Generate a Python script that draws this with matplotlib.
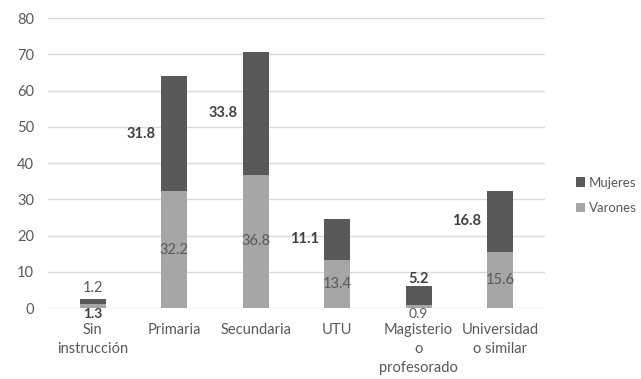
import matplotlib.pyplot as plt
import numpy as np

plt.rcParams['font.family'] = ['Lato', 'DejaVu Sans']

categorias = ["Sin\ninstrucción", "Primaria", "Secundaria", "UTU",
              "Magisterio\no\nprofesorado", "Universidad\no similar"]
varones = [1.2, 32.2, 36.8, 13.4, 0.9, 15.6]
mujeres = [1.3, 31.8, 33.8, 11.1, 5.2, 16.8]

# where each label goes: 'in' = inside/beside the segment, 'above'/'below' = outside the bar
pos_varones = ['above', 'in', 'in', 'in', 'below', 'in']
pos_mujeres = ['below', 'left', 'left', 'left', 'above', 'left']

c_muj = '#595959'
c_var = '#a6a6a6'
c_txt = '#595959'
fs = 10.5

fig = plt.figure(figsize=(6.41, 3.79), dpi=100)
ax = fig.add_axes([0.075, 0.187, 0.775, 0.7655])

x = np.arange(len(categorias))
w = 0.32
b_var = ax.bar(x, varones, w, color=c_var, label='Varones', zorder=3)
b_muj = ax.bar(x, mujeres, w, bottom=varones, color=c_muj, label='Mujeres', zorder=3)

for i in range(len(categorias)):
    v, m = varones[i], mujeres[i]
    total = v + m
    # Varones labels
    if pos_varones[i] == 'in':
        ax.text(x[i], v / 2, f'{v:.1f}', ha='center', va='center',
                fontsize=fs, color=c_txt, zorder=4)
    elif pos_varones[i] == 'above':
        ax.annotate(f'{v:.1f}', (x[i], total), xytext=(0, 3), textcoords='offset points',
                    ha='center', va='bottom', fontsize=fs, color=c_txt)
    else:
        ax.annotate(f'{v:.1f}', (x[i], 0), xytext=(0, 0), textcoords='offset points',
                    ha='center', va='top', fontsize=10, color=c_txt)
    # Mujeres labels
    if pos_mujeres[i] == 'left':
        ax.annotate(f'{m:.1f}', (x[i] - w / 2, v + m / 2), xytext=(-4, 0),
                    textcoords='offset points', ha='right', va='center',
                    fontsize=fs, color='#404040', fontweight='bold')
    elif pos_mujeres[i] == 'above':
        ax.annotate(f'{m:.1f}', (x[i], total), xytext=(0, 0), textcoords='offset points',
                    ha='center', va='bottom', fontsize=fs, color='#404040', fontweight='bold')
    else:
        ax.annotate(f'{m:.1f}', (x[i], 0), xytext=(0, 0), textcoords='offset points',
                    ha='center', va='top', fontsize=10, color='#404040', fontweight='bold')

ax.set_ylim(0, 80)
ax.set_yticks(range(0, 81, 10))
ax.set_xlim(-0.55, len(categorias) - 0.45)
ax.set_xticks(x)
ax.set_xticklabels(categorias, linespacing=1.45)
ax.tick_params(axis='both', length=0, colors=c_txt, labelsize=fs)
ax.tick_params(axis='x', pad=10.5)
ax.tick_params(axis='y', pad=10)
ax.yaxis.grid(True, color='#d9d9d9', linewidth=1, zorder=0)
for s in ax.spines.values():
    s.set_visible(False)

handles = [b_muj, b_var]
fig.legend(handles, ['Mujeres', 'Varones'], loc='center left',
           bbox_to_anchor=(0.88, 0.485), frameon=False, fontsize=9.5,
           labelcolor=c_txt, handlelength=0.7, handleheight=0.7,
           handletextpad=0.3, labelspacing=1.0)

fig.savefig('out.png', dpi=100)
